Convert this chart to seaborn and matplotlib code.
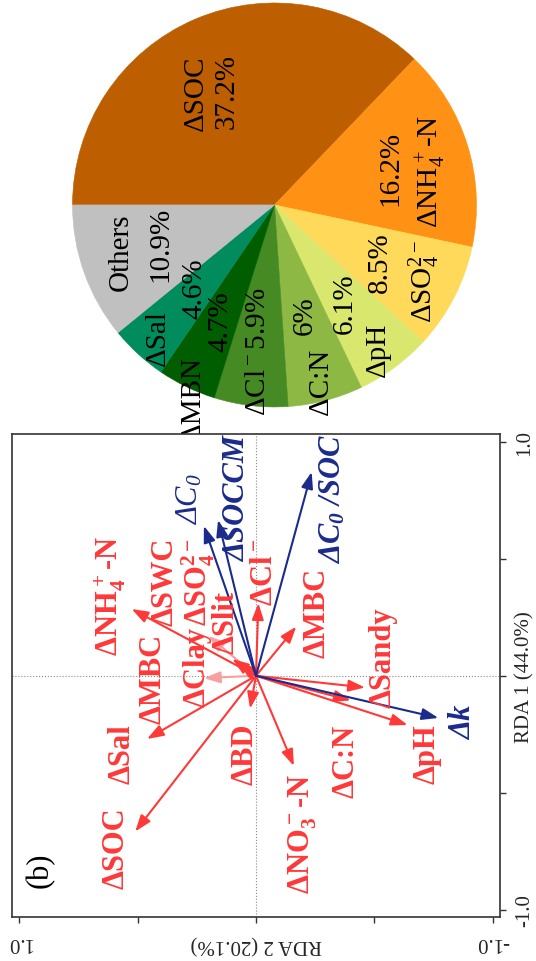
import matplotlib
matplotlib.use("Agg")
import matplotlib.pyplot as plt
import seaborn as sns

# ---- contribution of each factor (pie) ----
pie_names = ["ΔSOC", "ΔNH$_4^+$-N", "ΔSO$_4^{2-}$", "ΔpH", "ΔC:N",
             "ΔCl$^-$", "ΔMBN", "ΔSal", "Others"]
pie_values = [37.2, 16.2, 8.5, 6.1, 6.0, 5.9, 4.7, 4.6, 10.9]
pie_pct = ["37.2%", "16.2%", "8.5%", "6.1%", "6%", "5.9%", "4.7%", "4.6%", "10.9%"]
pie_colors = ["#BD5E00", "#FF9214", "#FFD95A", "#D9E76E", "#8CB843",
              "#468A23", "#005D00", "#008C5C", "#C0C0C0"]

# ---- RDA loadings: explanatory variables (red) ----
env_names = ["ΔSOC", "ΔSal", "ΔMBC", "ΔClay", "ΔNH$_4^+$-N", "ΔSWC",
             "ΔSO$_4^{2-}$", "ΔSlit", "ΔBD", "ΔNO$_3^-$-N", "ΔC:N",
             "ΔSandy", "ΔpH", "ΔMBC", "ΔCl$^-$"]
env_rda1 = [-0.665, -0.27, -0.01, 0.17, 0.285, 0.072, 0.058, 0.05,
            -0.14, -0.385, -0.105, -0.05, -0.21, 0.21, 0.31]
env_rda2 = [0.51, 0.46, 0.22, 0.20, 0.525, 0.10, 0.073, 0.067,
            0.025, -0.16, -0.40, -0.46, -0.64, -0.17, -0.01]
env_faded = [False, False, True, True, False, False, False, False,
             False, False, False, False, False, False, False]

# ---- RDA loadings: response variables (blue) ----
resp_names = ["ΔC$_0$", "ΔSOCCM", "ΔC$_0$ /SOC", "Δk"]
resp_rda1 = [0.64, 0.665, 0.87, -0.18]
resp_rda2 = [0.22, 0.16, -0.235, -0.77]
resp_bold = [False, True, True, True]

axis1_label = "RDA 1 (44.0%)"
axis2_label = "RDA 2 (20.1%)"

# label placement (RDA2, RDA1)
env_label_pos = [(0.591, -0.731), (0.566, -0.330), (0.435, -0.01), (0.249, 0.04),
                 (0.616, 0.345), (0.383, 0.405), (0.245, 0.405), (0.127, 0.23),
                 (0.046, -0.33), (-0.198, -0.671), (-0.382, -0.36), (-0.536, 0.08),
                 (-0.724, -0.332), (-0.257, 0.272), (-0.034, 0.447)]
resp_label_pos = [(0.279, 0.759), (0.076, 0.759), (-0.325, 0.759), (-0.878, -0.197)]

# pie text placement in radius units (None -> percentage follows the name)
pie_name_pos = [(-0.389, 0.56), (0.776, 0.169), (0.742, -0.375), (0.512, -0.71),
                (0.232, -0.868), (-0.083, -0.723), (-0.406, -0.953),
                (-0.577, -0.656), (-0.76, -0.23)]
pie_pct_pos = [(-0.236, 0.569), (0.572, 0.186), (0.521, -0.282), (0.346, -0.485),
               (0.15, -0.545), None, (-0.27, -0.571),
               (-0.398, -0.409), (-0.564, -0.188)]

sns.set_theme(style="white")
plt.rcParams["font.family"] = ["Liberation Serif", "DejaVu Serif"]
plt.rcParams["mathtext.default"] = "regular"
plt.rcParams["axes.unicode_minus"] = False

RED = "#FF3838"
PINK = "#F8A0A0"
NAVY = "#1B2B8C"

fig = plt.figure(figsize=(5.36, 9.62), dpi=100)

# ---------------- pie ----------------
axp = fig.add_axes([0.1353, 0.5759, 0.7537, 0.42])
axp.pie(pie_values, colors=pie_colors, startangle=180, counterclock=False,
        radius=1.0, wedgeprops=dict(linewidth=0.4))
for w, c in zip(axp.patches, pie_colors):
    w.set_edgecolor(c)
axp.set_xlim(-1, 1)
axp.set_ylim(-1, 1)
axp.set_axis_off()
for name, pct, (nx, ny), ppos in zip(pie_names, pie_pct, pie_name_pos, pie_pct_pos):
    if ppos is None:
        axp.text(nx, ny, name + pct, rotation=90, ha="center", va="center",
                 fontsize=21, color="black", clip_on=False)
        continue
    axp.text(nx, ny, name, rotation=90, ha="center", va="center",
             fontsize=21, color="black", clip_on=False)
    axp.text(ppos[0], ppos[1], pct, rotation=90, ha="center", va="center",
             fontsize=21, color="black", clip_on=False)

# ---------------- RDA biplot ----------------
ax = fig.add_axes([0.0224, 0.0457, 0.9104, 0.5016])
ax.set_xlim(1.03, -1.03)
ax.set_ylim(-1.03, 1.03)
ax.axhline(0, color="#8A8A8A", lw=0.8, ls=":", zorder=1)
ax.axvline(0, color="#8A8A8A", lw=0.8, ls=":", zorder=1)

arrow_style = "-|>,head_length=0.9,head_width=0.32"
for r1, r2, faded in zip(env_rda1, env_rda2, env_faded):
    ax.annotate("", xy=(r2, r1), xytext=(0, 0),
                arrowprops=dict(arrowstyle=arrow_style, color=PINK if faded else RED,
                                lw=1.5, shrinkA=0, shrinkB=0, mutation_scale=11),
                zorder=3)
for r1, r2 in zip(resp_rda1, resp_rda2):
    ax.annotate("", xy=(r2, r1), xytext=(0, 0),
                arrowprops=dict(arrowstyle=arrow_style, color=NAVY,
                                lw=1.5, shrinkA=0, shrinkB=0, mutation_scale=11),
                zorder=4)

for name, (lx, ly) in zip(env_names, env_label_pos):
    ax.text(lx, ly, name, rotation=90, ha="center", va="center", fontsize=22,
            fontweight="bold", color=RED, zorder=5)
for name, (lx, ly), bold in zip(resp_names, resp_label_pos, resp_bold):
    ax.text(lx, ly, name, rotation=90, ha="center", va="center", fontsize=22,
            fontweight="bold" if bold else "normal", fontstyle="italic",
            color=NAVY, zorder=5)

ax.text(0.912, -0.825, "(b)", rotation=90, ha="center", va="center",
        fontsize=22, color="black")

ticks = [-1.0, -0.5, 0.0, 0.5, 1.0]
ax.set_xticks(ticks)
ax.set_xticklabels(["-1.0", "", "", "", "1.0"], rotation=180, fontsize=15)
ax.set_yticks(ticks)
ax.yaxis.tick_right()
ax.set_yticklabels(["-1.0", "", "", "", "1.0"], rotation=90, va="center", fontsize=15)
ax.tick_params(axis="both", direction="out", length=4, width=1, color="#333333",
               bottom=True, right=True, left=False, top=False, pad=7)
for s in ax.spines.values():
    s.set_color("#333333")
    s.set_linewidth(1.2)

ax.text(0.5, -0.054, axis2_label, transform=ax.transAxes, rotation=180,
        ha="center", va="center", fontsize=15)
ax.text(1.051, 0.5, axis1_label, transform=ax.transAxes, rotation=90,
        ha="center", va="center", fontsize=15)

fig.savefig("out.png", dpi=100)
